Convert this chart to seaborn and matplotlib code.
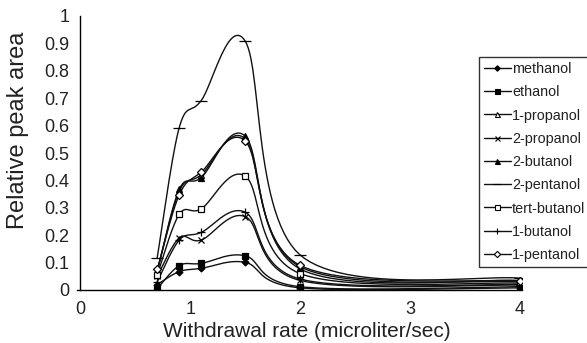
import numpy as np
import pandas as pd
import matplotlib
matplotlib.use("Agg")
import matplotlib.pyplot as plt
from matplotlib.lines import Line2D
import seaborn as sns

# ---- data ----
rates = [0.7, 0.9, 1.1, 1.5, 2.0, 4.0]
methanol    = [0.020, 0.067, 0.079, 0.101, 0.008, 0.008]
ethanol     = [0.005, 0.089, 0.097, 0.125, 0.012, 0.012]
propanol_1  = [0.070, 0.360, 0.420, 0.552, 0.085, 0.030]
propanol_2  = [0.050, 0.190, 0.182, 0.268, 0.035, 0.018]
butanol_2   = [0.065, 0.367, 0.410, 0.562, 0.077, 0.035]
pentanol_2  = [0.118, 0.592, 0.691, 0.909, 0.128, 0.043]
tert_butanol = [0.055, 0.276, 0.296, 0.416, 0.060, 0.025]
butanol_1   = [0.030, 0.182, 0.210, 0.284, 0.040, 0.020]
pentanol_1  = [0.075, 0.347, 0.430, 0.544, 0.090, 0.033]

names = ["methanol", "ethanol", "1-propanol", "2-propanol", "2-butanol",
         "2-pentanol", "tert-butanol", "1-butanol", "1-pentanol"]
series = [methanol, ethanol, propanol_1, propanol_2, butanol_2,
          pentanol_2, tert_butanol, butanol_1, pentanol_1]

x_ticks = [0, 1, 2, 3, 4]
y_ticks = [0, 0.1, 0.2, 0.3, 0.4, 0.5, 0.6, 0.7, 0.8, 0.9, 1]
y_tick_labels = ["0", "0.1", "0.2", "0.3", "0.4", "0.5", "0.6", "0.7", "0.8", "0.9", "1"]

# ---- styles ----
styles = {
    "methanol":     dict(marker="D", ms=3.5, mfc="black"),
    "ethanol":      dict(marker="s", ms=4.5, mfc="black"),
    "1-propanol":   dict(marker="^", ms=4.5, mfc="white"),
    "2-propanol":   dict(marker="x", ms=4.5, mfc="black"),
    "2-butanol":    dict(marker="^", ms=4.5, mfc="black"),
    "2-pentanol":   dict(marker="_", ms=8, mfc="black"),
    "tert-butanol": dict(marker="s", ms=4.5, mfc="white"),
    "1-butanol":    dict(marker="+", ms=6, mfc="black"),
    "1-pentanol":   dict(marker="D", ms=4, mfc="white"),
}

sns.set_theme(style="white")
plt.rcParams["font.family"] = ["Liberation Sans", "DejaVu Sans"]

fig = plt.figure(figsize=(5.87, 3.43), dpi=100)
ax = fig.add_axes([77 / 587, 1 - 290 / 343, (522 - 77) / 587, (290 - 16) / 343])


def smooth(xs, ys, n=30):
    """Excel-like smoothed line (Catmull-Rom Bezier) for drawing only."""
    sx, sy = 4.0, 1.0 * 274 / 445 * 4  # approx pixel aspect scaling
    P = np.column_stack([np.array(xs) / sx, np.array(ys) / sy])
    out = [P[0]]
    for i in range(len(P) - 1):
        p0 = P[i - 1] if i > 0 else P[i]
        p1 = P[i]
        p2 = P[i + 1]
        p3 = P[i + 2] if i + 2 < len(P) else P[i + 1]
        c1 = p1 + (p2 - p0) / 6.0
        c2 = p2 - (p3 - p1) / 6.0
        t = np.linspace(0, 1, n)[1:, None]
        seg = ((1 - t) ** 3) * p1 + 3 * ((1 - t) ** 2) * t * c1 + 3 * (1 - t) * t ** 2 * c2 + t ** 3 * p2
        out.extend(seg)
    out = np.array(out)
    return out[:, 0] * sx, out[:, 1] * sy


rows = []
for name, vals in zip(names, series):
    sxv, syv = smooth(rates, vals)
    dfc = pd.DataFrame({"x": sxv, "y": syv, "solvent": name})
    sns.lineplot(data=dfc, x="x", y="y", sort=False, estimator=None, color="#111111",
                 linewidth=1.0, ax=ax, legend=False)
    for r, v in zip(rates, vals):
        rows.append({"rate": r, "area": v, "solvent": name})

df = pd.DataFrame(rows)
for name in names:
    st = styles[name]
    sub = df[df["solvent"] == name]
    ax.plot(sub["rate"], sub["area"], linestyle="none", marker=st["marker"],
            markersize=st["ms"], markerfacecolor=st["mfc"], markeredgecolor="black",
            markeredgewidth=0.9, zorder=3)

ax.set_xlim(-0.03, 4.02)
ax.set_ylim(0, 1)
ax.spines["left"].set_position(("data", 0))
ax.spines["top"].set_visible(False)
ax.spines["right"].set_visible(False)
for s in ["left", "bottom"]:
    ax.spines[s].set_color("black")
    ax.spines[s].set_linewidth(1.0)

ax.set_xticks(x_ticks)
ax.set_xticklabels([str(t) for t in x_ticks])
ax.set_yticks(y_ticks)
ax.set_yticklabels(y_tick_labels)
ax.tick_params(axis="y", which="major", direction="out", length=6.5, width=1,
               color="black", labelsize=13, labelcolor="#222222", pad=1.5)
ax.tick_params(axis="x", which="major", direction="out", length=4, width=1,
               color="black", labelsize=13, labelcolor="#222222", pad=4)
ax.set_xlabel("Withdrawal rate (microliter/sec)", fontsize=15, color="#222222")
ax.set_ylabel("Relative peak area", fontsize=17, color="#222222")
ax.xaxis.set_label_coords(0.516, -0.115)
ax.yaxis.set_label_coords(-0.108, 0.584)
ax.grid(False)

handles = []
for name in names:
    st = styles[name]
    handles.append(Line2D([0], [0], color="#111111", linewidth=1.0, marker=st["marker"],
                          markersize=st["ms"] * 0.8, markerfacecolor=st["mfc"],
                          markeredgecolor="black", markeredgewidth=0.8))
leg = fig.legend(handles, names, loc="upper left", bbox_to_anchor=(479 / 587, 1 - 57 / 343),
                 fontsize=10.4, frameon=True, fancybox=False, shadow=False,
                 handlelength=1.85, handletextpad=0.1, borderpad=0.35, labelspacing=0.64,
                 borderaxespad=0)
leg.get_frame().set_edgecolor("black")
leg.get_frame().set_linewidth(1.0)
for t in leg.get_texts():
    t.set_color("#222222")

fig.savefig("out.png", dpi=100)
